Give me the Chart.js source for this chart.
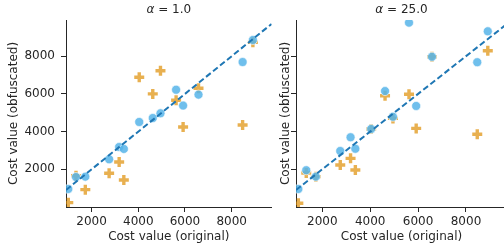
<!DOCTYPE html>
<html lang="en">
<head>
<meta charset="UTF-8">
<title>Cost value scatter</title>
<style>
  html, body { margin: 0; padding: 0; background: #fff; overflow: hidden; }
  #wrap { position: relative; width: 504px; height: 250px; overflow: hidden; }
  .box { position: absolute; top: 0; height: 250px; }
  #box1 { left: 0; width: 280px; }
  #box2 { left: 230px; width: 290px; }
</style>
</head>
<body>
<div id="wrap">
  <div class="box" id="box1"><canvas id="c1"></canvas></div>
  <div class="box" id="box2"><canvas id="c2"></canvas></div>
</div>
<script src="https://cdn.jsdelivr.net/npm/chart.js@4.4.1/dist/chart.umd.min.js"></script>
<script>
// original costs (shared x values)
const costOriginal = [1000, 1330, 1730, 2750, 3180, 3380, 4040, 4620, 4950, 5620, 5920, 6580, 8470, 8910];

// alpha = 1.0
const circlesA1 = [955, 1590, 1610, 2530, 3180, 3080, 4510, 4720, 4970, 6220, 5380, 5960, 7690, 8860];
const crossesA1 = [230, 1660, 920, 1790, 2390, 1430, 6880, 6000, 7230, 5660, 4240, 6300, 4350, 8740];

// alpha = 25.0
const circlesA25 = [955, 1950, 1610, 2970, 3700, 3090, 4140, 6150, 4790, 9780, 5360, 7970, 7680, 9320];
const crossesA25 = [200, 1800, 1610, 2230, 2580, 1960, 4140, 5900, 4700, 5980, 4170, 7970, 3860, 8290];

const alphas = ['1.0', '25.0'];
const xTicks = [2000, 4000, 6000, 8000];
const yTicks = [2000, 4000, 6000, 8000];
const xRange = [902, 9712];
const yRange = [0, 9920];

const FONT = '"DejaVu Sans", sans-serif';
const TEXT = '#262626';
const AXIS = '#262626';

function pts(ys) {
  return costOriginal.map((x, i) => ({ x: x, y: ys[i] }));
}

// title with italic alpha
const alphaTitle = {
  id: 'alphaTitle',
  afterDraw(chart, args, opts) {
    const ctx = chart.ctx;
    const area = chart.chartArea;
    const cx = (area.left + area.right) / 2;
    const a = 'α';
    const rest = ' = ' + opts.value;
    ctx.save();
    ctx.font = 'italic 12px ' + FONT;
    const wa = ctx.measureText(a).width;
    ctx.font = '12px ' + FONT;
    const wr = ctx.measureText(rest).width;
    let x = cx - (wa + wr) / 2;
    ctx.fillStyle = TEXT;
    ctx.textBaseline = 'alphabetic';
    ctx.textAlign = 'left';
    ctx.font = 'italic 12px ' + FONT;
    ctx.fillText(a, x, 13);
    ctx.font = '12px ' + FONT;
    ctx.fillText(rest, x + wa, 13);
    ctx.restore();
  }
};

function makeChart(id, circles, crosses, alpha, showYLabels, yTitlePad, padRight) {
  return new Chart(document.getElementById(id), {
    type: 'scatter',
    data: {
      datasets: [
        {
          label: 'identity',
          data: xRange.map(v => ({ x: v, y: v })),
          showLine: true,
          borderColor: '#1f77b4',
          borderWidth: 2,
          borderDash: [6, 3],
          pointRadius: 0,
          fill: false
        },
        {
          label: 'circles',
          data: pts(circles),
          pointStyle: 'circle',
          pointRadius: 4.5,
          backgroundColor: 'rgba(86, 180, 233, 0.85)',
          borderColor: 'rgba(255, 255, 255, 0.6)',
          borderWidth: 1
        },
        {
          label: 'crosses',
          data: pts(crosses),
          pointStyle: 'cross',
          pointRadius: 5,
          backgroundColor: 'rgba(222, 143, 5, 0.7)',
          borderColor: 'rgba(222, 143, 5, 0.7)',
          borderWidth: 3.4
        }
      ]
    },
    options: {
      responsive: true,
      maintainAspectRatio: false,
      animation: false,
      layout: { padding: { left: 0, top: 20, right: padRight, bottom: 0 } },
      plugins: {
        legend: { display: false },
        tooltip: { enabled: false },
        alphaTitle: { value: alpha }
      },
      scales: {
        x: {
          type: 'linear',
          min: xRange[0],
          max: xRange[1],
          afterBuildTicks: s => { s.ticks = xTicks.map(v => ({ value: v })); },
          afterFit: s => { s.height = 43; },
          ticks: {
            color: TEXT,
            font: { family: FONT, size: 12 },
            padding: 3,
            maxRotation: 0,
            autoSkip: false,
            callback: v => String(v)
          },
          grid: { drawOnChartArea: false, tickLength: 5, color: AXIS, lineWidth: 1 },
          border: { display: true, color: AXIS, width: 1 },
          title: {
            display: true,
            text: 'Cost value (original)',
            color: TEXT,
            font: { family: FONT, size: 12 },
            padding: { top: 0, bottom: 6 }
          }
        },
        y: {
          type: 'linear',
          min: yRange[0],
          max: yRange[1],
          afterBuildTicks: s => { s.ticks = yTicks.map(v => ({ value: v })); },
          afterFit: s => { s.width = 66; },
          ticks: {
            display: showYLabels,
            color: TEXT,
            font: { family: FONT, size: 12 },
            padding: 6,
            autoSkip: false,
            callback: v => String(v)
          },
          grid: { drawOnChartArea: false, tickLength: 5, color: AXIS, lineWidth: 1 },
          border: { display: true, color: AXIS, width: 1 },
          title: {
            display: true,
            text: 'Cost value (obfuscated)',
            color: TEXT,
            font: { family: FONT, size: 12 },
            padding: { top: yTitlePad, bottom: 0 }
          }
        }
      }
    },
    plugins: [alphaTitle]
  });
}

makeChart('c1', circlesA1, crossesA1, alphas[0], true, 6.3, 3);
makeChart('c2', circlesA25, crossesA25, alphas[1], false, 48.5, 13);
</script>
</body>
</html>
